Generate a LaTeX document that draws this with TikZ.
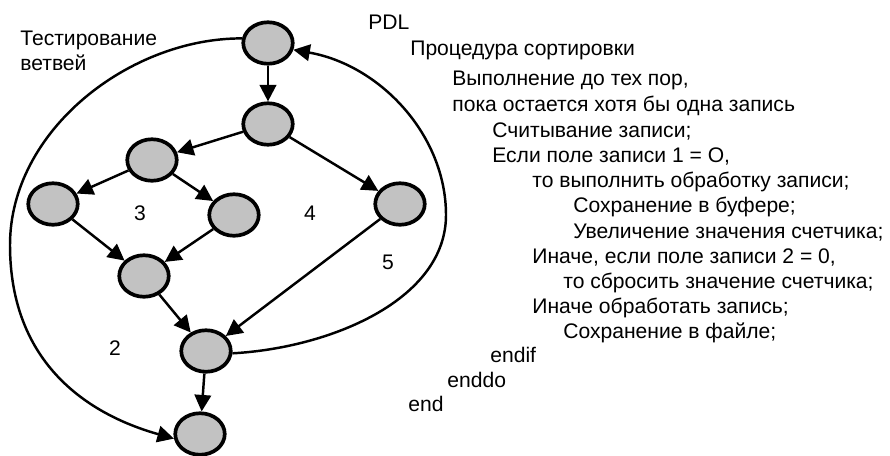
\documentclass[tikz,border=0pt]{standalone}
\usepackage{fontspec}
\setmainfont{Liberation Sans}
\usepackage{tikz}
\usetikzlibrary{arrows.meta, shapes.geometric}
\tikzset{vertex/.style={draw=black, line width=2.1pt, fill=black!24, ellipse, minimum width=9.9mm, minimum height=8.3mm, inner sep=0pt},
  flow/.style={line width=1.4pt, -{Triangle[length=3.3mm, width=3.3mm]}},
  txt/.style={anchor=base west, inner sep=0pt, font=\fontsize{12}{14}\selectfont},
  region/.style={inner sep=0pt, font=\fontsize{12}{14}\selectfont}}

\begin{document}
\begin{tikzpicture}[x=0.2mm, y=-0.2mm]
    \useasboundingbox (0,0) rectangle (890,455);
    \foreach \n/\x/\y in {1/268/43, 2/268/124, 3/152/160, 4/53/204, 5/234/215, 6/400/204, 7/144/276, 8/206/351, 9/200/434} {
      \node [vertex] (v\n) at (\x,\y) {};
    }
    \foreach \a/\b in {1/2, 2/3, 2/6, 3/4, 3/5, 4/7, 5/7, 7/8, 6/8, 8/9} {
      \draw [flow] (v\a) -- (v\b);
    }
    \draw [flow] (v1.170) .. controls (130,38) and (10,130) .. (10,245) .. controls (10,365) and (90,415) .. (v9.190);
    \draw [flow] (v8.-5) .. controls (330,348) and (446,300) .. (446,215) .. controls (446,135) and (380,65) .. (v1.-15);
    \node [region] (r2) at (115,348) {2};
    \node [region] (r3) at (140,213) {3};
    \node [region] (r4) at (310,213) {4};
    \node [region] (r5) at (388,262) {5};
    \node [txt] (test1) at (20,45) {Тестирование};
    \node [txt] (test2) at (20,70) {ветвей};
    \node [txt] (pdl) at (368,29) {PDL};
    \foreach \x/\y/\t [count=\i] in {410/55/{Процедура сортировки}, 452/85/{Выполнение до тех пор,},
      452/111/{пока остается хотя бы одна запись}, 492/137/{Считывание записи;}, 492/162/{Если поле записи 1 = О,},
      532/187/{то выполнить обработку записи;}, 573/212/{Сохранение в буфере;}, 573/238/{Увеличение значения счетчика;},
      532/263/{Иначе, если поле записи 2 = 0,}, 563/288/{то сбросить значение счетчика;}, 532/313/{Иначе обработать запись;},
      563/338/{Сохранение в файле;}, 490/362/{endif}, 447/387/{enddo}, 408/411/{end}} {
      \node [txt] (line\i) at (\x,\y) {\t};
    }
  \end{tikzpicture}
\end{document}
